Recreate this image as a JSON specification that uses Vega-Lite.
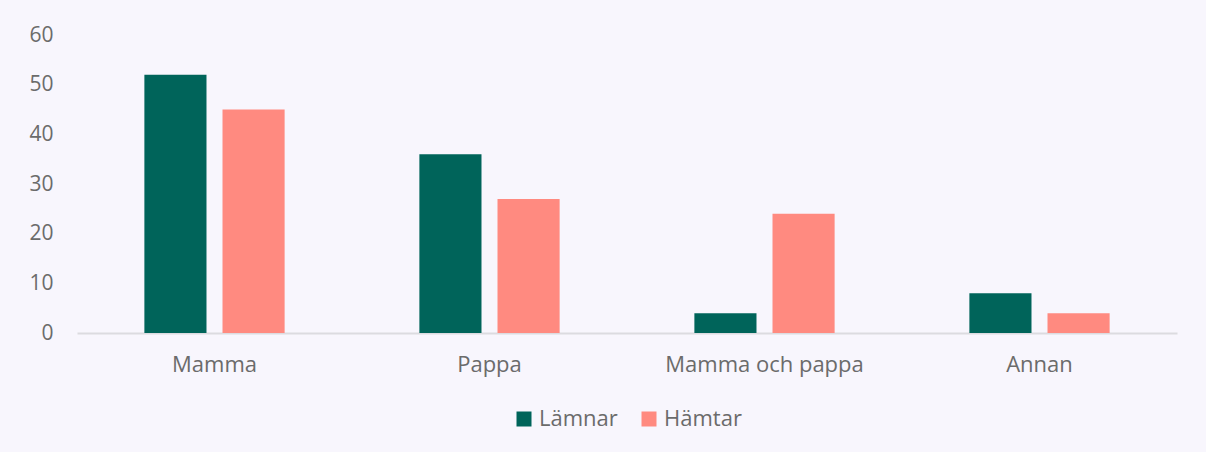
{
  "$schema": "https://vega.github.io/schema/vega-lite/v6.json",
  "width": 1100,
  "height": 298,
  "autosize": {"type": "none"},
  "padding": {"left": 77, "top": 35, "right": 29, "bottom": 119},
  "background": "#f8f6fd",
  "data": {
    "values": [
      {"kategori": "Mamma", "typ": "Lämnar", "andel": 52},
      {"kategori": "Mamma", "typ": "Hämtar", "andel": 45},
      {"kategori": "Pappa", "typ": "Lämnar", "andel": 36},
      {"kategori": "Pappa", "typ": "Hämtar", "andel": 27},
      {"kategori": "Mamma och pappa", "typ": "Lämnar", "andel": 4},
      {"kategori": "Mamma och pappa", "typ": "Hämtar", "andel": 24},
      {"kategori": "Annan", "typ": "Lämnar", "andel": 8},
      {"kategori": "Annan", "typ": "Hämtar", "andel": 4}
    ]
  },
  "mark": {"type": "bar"},
  "encoding": {
    "x": {
      "field": "kategori",
      "type": "nominal",
      "sort": ["Mamma", "Pappa", "Mamma och pappa", "Annan"],
      "scale": {"paddingInner": 0.49, "paddingOuter": 0.245},
      "axis": {
        "title": null,
        "labelAngle": 0,
        "ticks": false,
        "domainColor": "#dcdbe0",
        "domainWidth": 2,
        "labelPadding": 21,
        "labelFontSize": 22,
        "labelLimit": 0,
        "labelColor": "#6b6b6b",
        "labelFont": "Open Sans"
      }
    },
    "xOffset": {
      "field": "typ",
      "sort": ["Lämnar", "Hämtar"],
      "scale": {"paddingInner": 0.205, "paddingOuter": 0}
    },
    "y": {
      "field": "andel",
      "type": "quantitative",
      "scale": {"domain": [0, 60]},
      "axis": {
        "title": null,
        "grid": false,
        "domain": false,
        "ticks": false,
        "tickCount": 6,
        "labelPadding": 24,
        "labelFontSize": 21,
        "labelColor": "#6b6b6b",
        "labelFont": "Open Sans"
      }
    },
    "color": {
      "field": "typ",
      "type": "nominal",
      "sort": ["Lämnar", "Hämtar"],
      "scale": {"domain": ["Lämnar", "Hämtar"], "range": ["#00645a", "#ff8a80"]},
      "legend": {
        "title": null,
        "orient": "bottom",
        "direction": "horizontal",
        "symbolType": "square",
        "symbolSize": 225,
        "symbolStrokeWidth": 0,
        "symbolOpacity": 1,
        "labelFontSize": 22,
        "labelColor": "#6b6b6b",
        "labelFont": "Open Sans",
        "labelOffset": 4,
        "columnPadding": 20,
        "offset": 33
      }
    }
  },
  "config": {
    "view": {"stroke": null},
    "legend": {"layout": {"bottom": {"anchor": "middle"}}}
  }
}
